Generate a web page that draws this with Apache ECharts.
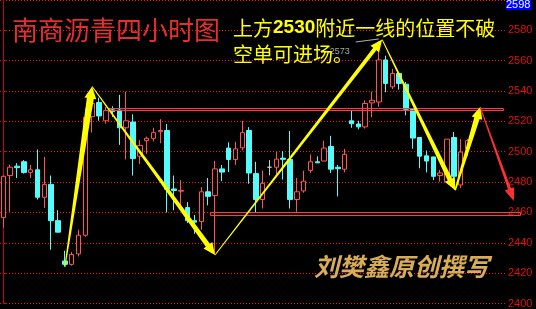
<!DOCTYPE html>
<html><head><meta charset="utf-8">
<script src="https://cdn.jsdelivr.net/npm/echarts@6/dist/echarts.min.js"></script>
<style>html,body{margin:0;padding:0;background:#000;}#c{width:536px;height:309px;}</style>
</head><body><div id="c"></div>
<script>
// ---------- data ----------
const categories = Array.from({length: 74}, (_, i) => 'K' + (i + 1));
// [open, close, low, high]
const ohlc = [
 [2456.6,2483.8,2450.0,2484.5],[2484.3,2489.8,2460.4,2491.5],[2490.5,2489.5,2482.7,2492.5],[2493.4,2486.4,2485.6,2494.5],
 [2486.4,2488.1,2482.7,2491.3],[2488.1,2470.0,2468.5,2501.5],[2470.0,2478.5,2463.0,2496.6],[2478.5,2454.6,2435.5,2484.3],
 [2454.6,2447.0,2447.0,2461.5],[2428.0,2425.8,2424.6,2434.8],[2425.8,2432.3,2425.0,2434.0],[2432.7,2445.0,2431.0,2448.7],
 [2445.0,2522.7,2444.0,2528.6],[2523.2,2531.8,2512.6,2536.0],[2532.4,2523.6,2520.4,2535.6],[2520.4,2527.1,2518.5,2529.6],
 [2527.6,2526.6,2523.0,2530.0],[2527.5,2515.8,2504.5,2537.5],[2515.8,2520.4,2494.9,2539.6],[2519.6,2495.5,2484.3,2524.7],
 [2497.1,2504.1,2492.0,2507.7],[2507.3,2508.9,2498.7,2510.0],[2508.8,2512.6,2506.8,2515.8],[2513.2,2514.0,2505.6,2521.5],
 [2514.0,2475.3,2460.0,2518.3],[2475.5,2474.5,2461.5,2484.3],[2474.0,2474.5,2465.0,2481.3],[2463.2,2454.6,2453.0,2466.8],
 [2454.6,2453.6,2446.0,2458.3],[2454.0,2473.6,2448.6,2476.8],[2473.6,2470.6,2464.7,2482.7],[2471.1,2488.7,2432.5,2494.0],
 [2488.7,2486.6,2480.6,2491.3],[2502.4,2494.9,2486.6,2506.2],[2494.9,2501.9,2491.3,2506.6],[2502.6,2512.6,2500.9,2520.4],
 [2514.0,2486.0,2478.9,2516.2],[2485.6,2468.5,2460.0,2493.4],[2468.5,2479.2,2462.6,2487.7],[2489.8,2489.8,2484.5,2494.5],
 [2489.8,2495.1,2483.8,2499.8],[2495.8,2495.0,2481.7,2500.4],[2494.9,2468.5,2462.6,2513.7],[2468.5,2473.6,2460.4,2482.7],
 [2474.2,2480.6,2473.0,2487.5],[2487.7,2493.4,2486.0,2498.3],[2493.4,2492.7,2492.5,2497.0],[2493.9,2502.4,2493.9,2507.3],
 [2503.5,2488.5,2486.0,2510.5],[2489.8,2488.8,2470.6,2491.3],[2488.5,2498.3,2486.4,2501.9],[2520.4,2518.5,2515.8,2527.5],
 [2518.3,2516.4,2514.7,2520.4],[2516.4,2531.8,2515.3,2533.9],[2532.2,2533.9,2522.8,2539.6],[2532.8,2560.5,2529.6,2573.0],
 [2560.5,2545.0,2539.2,2563.3],[2542.8,2551.6,2541.3,2554.6],[2551.6,2545.0,2540.9,2552.0],[2544.5,2528.0,2524.0,2546.0],
 [2528.0,2509.0,2502.0,2528.0],[2509.4,2497.1,2489.1,2509.4],[2497.3,2493.9,2486.4,2500.9],[2496.6,2483.8,2481.3,2496.6],
 [2484.3,2486.0,2480.2,2488.1],[2480.2,2508.3,2480.2,2508.3],[2509.4,2483.8,2476.0,2513.0],[2478.1,2499.8,2476.0,2508.3],
 [2502.0,2507.3,2497.0,2508.3]
];
const yTicks = [2400,2420,2440,2460,2480,2500,2520,2540,2560,2580];
const yMax = 2600;
const topPriceLabel = '2598';
// analyst path (bar index, price)
const arrowPath = [[9.0,2424.0],[13.0,2543.0],[31.0,2432.0],[55.5,2573.9],[66.2,2474.6],[69.9,2529.7]];
const redArrow = [[69.9,2529.0],[74.8,2467.5]];
// level boxes [fromIndex, toIndex, upperPrice, lowerPrice]
const levelBands = [[15.3,73.2,2529.1,2527.5],[30.3,75.7,2460.3,2458.3]];
const titleText = '南商沥青四小时图';
const noteLine2 = '空单可进场。';
const watermark = '刘樊鑫原创撰写';

// ---------- helpers ----------
function arrowPoly(p1, p2, s0, s1, hw, hl) {
  const dx = p2[0]-p1[0], dy = p2[1]-p1[1];
  const L = Math.hypot(dx, dy) || 1;
  const ux = dx/L, uy = dy/L, nx = -uy, ny = ux;
  const bx = p2[0]-ux*hl, by = p2[1]-uy*hl;
  return [
    [p1[0]+nx*s0, p1[1]+ny*s0],[bx+nx*s1, by+ny*s1],[bx+nx*hw, by+ny*hw],
    [p2[0], p2[1]],
    [bx-nx*hw, by-ny*hw],[bx-nx*s1, by-ny*s1],[p1[0]-nx*s0, p1[1]-ny*s0]
  ];
}
const yellowSegs = arrowPath.slice(1).map((pt, i) => [arrowPath[i][0], arrowPath[i][1], pt[0], pt[1], i]);
const yellowShape = [[0.5,3.5,6,12],[0.5,2.5,5.5,12],[0.5,2,5.5,12],[0.5,2.5,5.5,12],[0.8,2.8,5.5,12]];
let hiIdx = 0; ohlc.forEach((d, i) => { if (d[3] > ohlc[hiIdx][3]) hiIdx = i; });
const hiVal = ohlc[hiIdx][3];

const chart = echarts.init(document.getElementById('c'), null, {renderer: 'canvas'});
const FONT = '"Noto Sans CJK SC", "Noto Sans", sans-serif';
chart.setOption({
  animation: false,
  backgroundColor: '#000000',
  grid: {left: -2.4, right: 31, top: -1.6, bottom: -1, containLabel: false},
  xAxis: [
    {type: 'category', data: categories, boundaryGap: true, show: false},
    {type: 'value', min: -0.5, max: categories.length - 0.5, show: false}
  ],
  yAxis: {
    type: 'value', position: 'right', min: yTicks[0], max: yMax, interval: yTicks[1] - yTicks[0],
    axisLine: {show: true, lineStyle: {color: '#d00000', width: 1}},
    axisTick: {show: true, inside: false, length: 3, lineStyle: {color: '#d00000'}},
    axisLabel: {show: true, color: '#e01010', fontSize: 11, fontFamily: 'Liberation Sans', margin: 3,
                showMaxLabel: false, formatter: function (v) { return String(v); }},
    splitLine: {show: true, lineStyle: {color: '#ff1010', width: 1, type: [1, 2], opacity: 1}}
  },
  series: [
    {
      type: 'candlestick', xAxisIndex: 0, yAxisIndex: 0, data: ohlc, barWidth: 5, z: 2,
      itemStyle: {color: '#000000', color0: '#54fcfc', borderColor: '#ff5454', borderColor0: '#54fcfc',
                  borderColorDoji: '#c8c8c8', borderWidth: 1}
    },
    {
      type: 'custom', xAxisIndex: 1, yAxisIndex: 0, z: 3, clip: false, silent: true,
      data: levelBands,
      renderItem: function (params, api) {
        const a = api.coord([api.value(0), api.value(2)]);
        const b = api.coord([api.value(1), api.value(3)]);
        const x = Math.round(a[0]) + 0.5, y = Math.round(a[1]) + 0.5;
        const w = Math.round(b[0] - a[0]), h = Math.max(2, Math.round(b[1] - a[1]));
        return {type: 'rect', shape: {x: x, y: y, width: w, height: h},
                style: {fill: null, stroke: '#ff3c3c', lineWidth: 1}};
      }
    },
    {
      type: 'custom', xAxisIndex: 1, yAxisIndex: 0, z: 3, clip: false, silent: true,
      data: [[hiIdx, hiVal]],
      renderItem: function (params, api) {
        const p = api.coord([api.value(0), api.value(1)]);
        return {type: 'group', children: [
          {type: 'line', shape: {x1: p[0] - 23, y1: p[1] + 1, x2: p[0], y2: p[1] - 2},
           style: {stroke: '#b0b0b0', lineWidth: 1}},
          {type: 'text', x: p[0] - 29, y: p[1] + 11,
           style: {text: String(Math.round(api.value(1))), fill: '#a8a8a8', font: '9px Liberation Sans',
                   align: 'right', verticalAlign: 'middle'}}
        ]};
      }
    },
    {
      type: 'custom', xAxisIndex: 1, yAxisIndex: 0, z: 5, clip: false, silent: true,
      data: yellowSegs,
      renderItem: function (params, api) {
        const p1 = api.coord([api.value(0), api.value(1)]);
        const p2 = api.coord([api.value(2), api.value(3)]);
        const s = yellowShape[api.value(4)];
        return {type: 'polygon', shape: {points: arrowPoly(p1, p2, s[0], s[1], s[2], s[3])},
                style: {fill: '#ffff00', stroke: null}};
      }
    },
    {
      type: 'custom', xAxisIndex: 1, yAxisIndex: 0, z: 5, clip: false, silent: true,
      data: [[redArrow[0][0], redArrow[0][1], redArrow[1][0], redArrow[1][1]]],
      renderItem: function (params, api) {
        const p1 = api.coord([api.value(0), api.value(1)]);
        const p2 = api.coord([api.value(2), api.value(3)]);
        return {type: 'polygon', shape: {points: arrowPoly(p1, p2, 0.5, 1.6, 5, 13)},
                style: {fill: '#ff3030', stroke: null}};
      }
    }
  ],
  graphic: [
    {type: 'text', x: 12, y: 30, z: 10,
     style: {text: titleText, font: 'normal 26px ' + FONT, fill: '#e62e2e', align: 'left', verticalAlign: 'middle'}},
    {type: 'text', x: 233, y: 28, z: 10,
     style: {text: '{a|上方}{b|2530}{a|附近一线的位置不破}', align: 'left', verticalAlign: 'middle',
             rich: {a: {fontSize: 20, fontFamily: FONT, fill: '#ffff00'},
                    b: {fontSize: 19, fontFamily: 'Liberation Sans', fontWeight: 'bold', fill: '#ffff00'}}}},
    {type: 'text', x: 233, y: 54, z: 10,
     style: {text: noteLine2, font: 'normal 20px ' + FONT, fill: '#ffff00', align: 'left', verticalAlign: 'middle'}},
    {type: 'text', x: 314, y: 266, z: 10,
     style: {text: watermark, fontSize: 25, fontFamily: 'Noto Sans CJK SC', fontWeight: 'bold', fontStyle: 'italic',
             fill: '#d9ac58', align: 'left', verticalAlign: 'middle'}},
    {type: 'text', x: 506, y: 0, z: 10,
     style: {text: topPriceLabel, font: '11px Liberation Sans', fill: '#e8ffff', backgroundColor: '#0000ff',
             lineHeight: 10, height: 10, padding: [0, 1, 0, 0], align: 'left', verticalAlign: 'top'}}
  ]
});
</script></body></html>
